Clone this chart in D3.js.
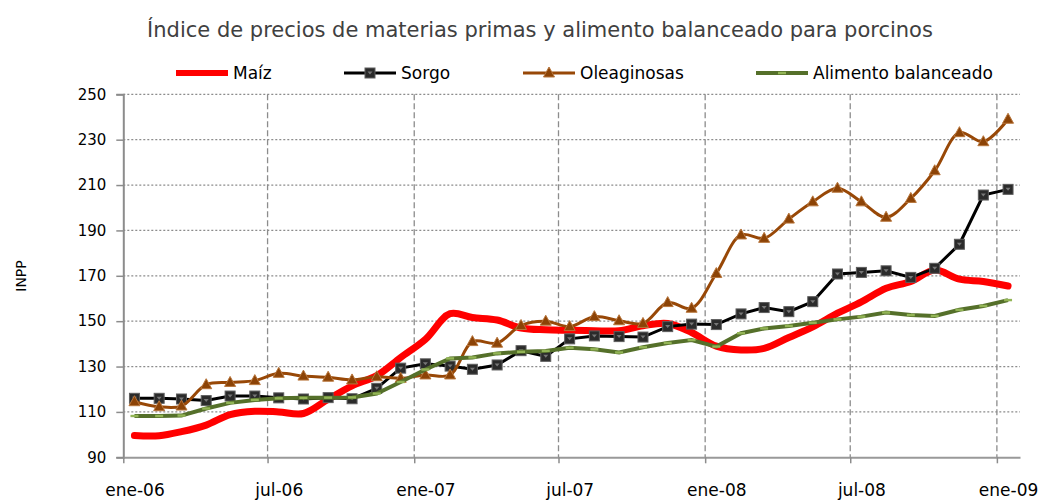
<!DOCTYPE html>
<html>
<head>
<meta charset="utf-8">
<script src="https://cdn.jsdelivr.net/npm/d3@7"></script>
<style>
  body { margin: 0; background: #fff; }
  svg { display: block; font-family: "DejaVu Sans", sans-serif; }
</style>
</head>
<body>
<div class="chart"></div>
<script>
// monthly data, ene-06 .. ene-09
var months = ["2006-01","2006-02","2006-03","2006-04","2006-05","2006-06","2006-07","2006-08","2006-09","2006-10","2006-11","2006-12",
  "2007-01","2007-02","2007-03","2007-04","2007-05","2007-06","2007-07","2007-08","2007-09","2007-10","2007-11","2007-12",
  "2008-01","2008-02","2008-03","2008-04","2008-05","2008-06","2008-07","2008-08","2008-09","2008-10","2008-11","2008-12",
  "2009-01"];

var maiz = [99.6, 99.5, 101.3, 104.2, 108.8, 110.3, 110.0, 109.3, 115.6, 121.5, 126.0, 134.0,
  142.0, 153.3, 151.6, 150.5, 147.0, 146.2, 146.0, 145.8, 145.8, 148.0, 149.0, 145.0,
  139.0, 137.3, 138.0, 142.8, 147.5, 153.5, 158.5, 164.5, 167.5, 172.5, 168.5, 167.5, 165.5];

var sorgo = [116, 116, 115.7, 115, 117, 117, 116.2, 115.7, 116.3, 115.8, 120.4, 129.3,
  131.2, 130.2, 128.8, 130.7, 137, 134.5, 142.2, 143.5, 143.2, 143, 147.6, 148.7,
  148.5, 153.2, 156, 154.2, 158.6, 170.8, 171.5, 172.2, 169.3, 173.3, 183.9, 205.6, 208.1];

var oleaginosas = [114.5, 112.3, 112.6, 122, 123, 123.8, 127, 125.8, 125.3, 124.1, 125.5, 124.8,
  126.3, 126.3, 141, 140.3, 148.1, 150, 147.6, 152, 150.2, 149, 158.2, 155.7,
  171, 188, 186.5, 195, 202.6, 208.6, 202.6, 195.8, 204.1, 216.3, 233.1, 229.1, 239];

var alimento = [108.2, 108.2, 108.4, 111.5, 114, 115.3, 116, 116.2, 116.3, 116.4, 118.1, 123.2,
  128.7, 133.6, 134, 135.8, 136.5, 136.9, 138.3, 137.6, 136.2, 138.5, 140.4, 141.7,
  138.8, 144.7, 146.8, 147.9, 149.3, 150.8, 152, 153.8, 152.7, 152.3, 155, 156.7, 159.3];

var seriesNames = ["Maíz", "Sorgo", "Oleaginosas", "Alimento balanceado"];
var xTickDates = ["2006-01-01","2006-07-01","2007-01-01","2007-07-01","2008-01-01","2008-07-01","2009-01-01"];
var xTickLabels = ["ene-06","jul-06","ene-07","jul-07","ene-08","jul-08","ene-09"];
var yTicks = [90, 110, 130, 150, 170, 190, 210, 230, 250];

var svgWidth = 1041;
var svgHeight = 502;
var margin = { top: 94.3, right: 21, bottom: 44.7, left: 123.3 };
var width = svgWidth - margin.left - margin.right;
var height = svgHeight - margin.top - margin.bottom;

var parseDay = d3.timeParse("%Y-%m-%d");
var dates = months.map(function(m) { return parseDay(m + "-15"); });

var svg = d3.select(".chart").append("svg")
  .attr("width", svgWidth)
  .attr("height", svgHeight);

var chart = svg.append("g")
  .attr("transform", "translate(" + margin.left + "," + margin.top + ")");

var x = d3.scaleTime()
  .domain([parseDay("2006-01-01"), parseDay("2009-01-30")])
  .range([0, width]);
var y = d3.scaleLinear().domain([90, 250]).range([height, 0]);

// horizontal gridlines (dotted)
chart.append("g")
  .selectAll("line")
  .data(yTicks.slice(1))
  .enter().append("line")
  .attr("x1", 0).attr("x2", width)
  .attr("y1", function(d) { return y(d); })
  .attr("y2", function(d) { return y(d); })
  .attr("stroke", "#8c8c8c")
  .attr("stroke-width", 1.3)
  .attr("stroke-dasharray", "2,2");

// vertical gridlines (dashed)
chart.append("g")
  .selectAll("line")
  .data(xTickDates.slice(1))
  .enter().append("line")
  .attr("x1", function(d) { return x(parseDay(d)); })
  .attr("x2", function(d) { return x(parseDay(d)); })
  .attr("y1", 0).attr("y2", height)
  .attr("stroke", "#8c8c8c")
  .attr("stroke-width", 1.3)
  .attr("stroke-dasharray", "6,3");

// y axis
var leftAxis = d3.axisLeft(y).tickValues(yTicks).tickSize(7).tickPadding(10);
var gy = chart.append("g").call(leftAxis);
gy.select(".domain").attr("stroke", "#8c8c8c").attr("stroke-width", 2);
gy.selectAll(".tick line").attr("stroke", "#8c8c8c").attr("stroke-width", 1.5);
gy.selectAll(".tick text")
  .attr("font-size", 15)
  .attr("font-family", "DejaVu Sans, sans-serif")
  .attr("fill", "#000");

// x axis - labels sit on the middle of the month
var labelShift = x(parseDay("2006-01-15")) - x(parseDay("2006-01-01"));
var bottomAxis = d3.axisBottom(x)
  .tickValues(xTickDates.map(parseDay))
  .tickFormat(function(d, i) { return xTickLabels[i]; })
  .tickSize(6).tickSizeOuter(0).tickPadding(21);
var gx = chart.append("g")
  .attr("transform", "translate(0," + height + ")")
  .call(bottomAxis);
gx.select(".domain").attr("stroke", "#999").attr("stroke-width", 2);
gx.selectAll(".tick line").attr("stroke", "#8c8c8c").attr("stroke-width", 1.5);
gx.selectAll(".tick text")
  .attr("x", labelShift)
  .attr("font-size", 17)
  .attr("font-family", "DejaVu Sans, sans-serif")
  .attr("fill", "#000");

// y axis title
svg.append("text")
  .attr("transform", "translate(26," + 276 + ") rotate(-90)")
  .attr("text-anchor", "middle")
  .attr("font-size", 14)
  .attr("fill", "#000")
  .text("INPP");

// title
svg.append("text")
  .attr("x", 540)
  .attr("y", 37)
  .attr("text-anchor", "middle")
  .attr("font-size", 21)
  .attr("fill", "#404040")
  .text("Índice de precios de materias primas y alimento balanceado para porcinos");

function pts(values) {
  return values.map(function(v, i) { return { date: dates[i], value: v }; });
}

var straight = d3.line()
  .x(function(d) { return x(d.date); })
  .y(function(d) { return y(d.value); });
var smooth = d3.line()
  .x(function(d) { return x(d.date); })
  .y(function(d) { return y(d.value); })
  .curve(d3.curveCatmullRom.alpha(0.5));

// Maiz - thick red smooth line
chart.append("path")
  .datum(pts(maiz))
  .attr("d", smooth)
  .attr("fill", "none")
  .attr("stroke", "#ff0000")
  .attr("stroke-width", 7)
  .attr("stroke-linecap", "round")
  .attr("stroke-linejoin", "round");

// Sorgo - black line with squares
chart.append("path")
  .datum(pts(sorgo))
  .attr("d", straight)
  .attr("fill", "none")
  .attr("stroke", "#000")
  .attr("stroke-width", 3);

function squareMarker(sel) {
  sel.append("rect")
    .attr("x", -5).attr("y", -5)
    .attr("width", 10).attr("height", 10)
    .attr("fill", "#2b2b2b")
    .attr("stroke", "#5e5e5e")
    .attr("stroke-width", 1);
  sel.append("path")
    .attr("d", "M-2.5,-1.5L2.5,-1.5L0,1.5Z")
    .attr("fill", "#777");
}

chart.append("g").selectAll("g")
  .data(pts(sorgo))
  .enter().append("g")
  .attr("transform", function(d) { return "translate(" + x(d.date) + "," + y(d.value) + ")"; })
  .call(squareMarker);

// Oleaginosas - brown smooth line with triangles
chart.append("path")
  .datum(pts(oleaginosas))
  .attr("d", smooth)
  .attr("fill", "none")
  .attr("stroke", "#984807")
  .attr("stroke-width", 3);

function triMarker(sel) {
  sel.append("path")
    .attr("d", "M0,-6L5.5,4L-5.5,4Z")
    .attr("fill", "#8c4306")
    .attr("stroke", "#b8763c")
    .attr("stroke-width", 1);
}

chart.append("g").selectAll("g")
  .data(pts(oleaginosas))
  .enter().append("g")
  .attr("transform", function(d) { return "translate(" + x(d.date) + "," + y(d.value) + ")"; })
  .call(triMarker);

// Alimento balanceado - olive line with dash markers
chart.append("path")
  .datum(pts(alimento))
  .attr("d", straight)
  .attr("fill", "none")
  .attr("stroke", "#55702a")
  .attr("stroke-width", 4);

function dashMarker(sel) {
  sel.append("rect")
    .attr("x", -4).attr("y", -1.2)
    .attr("width", 8).attr("height", 2.4)
    .attr("fill", "#93b556");
}

chart.append("g").selectAll("g")
  .data(pts(alimento))
  .enter().append("g")
  .attr("transform", function(d) { return "translate(" + x(d.date) + "," + y(d.value) + ")"; })
  .call(dashMarker);

// legend
var legendY = 73;
var legendX = [176, 344, 523, 756];
var legend = svg.append("g");

function legendItem(i, drawSample) {
  var g = legend.append("g").attr("transform", "translate(" + legendX[i] + "," + legendY + ")");
  drawSample(g);
  g.append("text")
    .attr("x", 57).attr("y", 6)
    .attr("font-size", 17)
    .attr("fill", "#000")
    .text(seriesNames[i]);
}

legendItem(0, function(g) {
  g.append("line").attr("x1", 0).attr("x2", 52).attr("stroke", "#ff0000").attr("stroke-width", 6);
});
legendItem(1, function(g) {
  g.append("line").attr("x1", 0).attr("x2", 52).attr("stroke", "#000").attr("stroke-width", 3);
  g.append("g").attr("transform", "translate(26,0)").call(squareMarker);
});
legendItem(2, function(g) {
  g.append("line").attr("x1", 0).attr("x2", 52).attr("stroke", "#984807").attr("stroke-width", 3);
  g.append("g").attr("transform", "translate(26,0)").call(triMarker);
});
legendItem(3, function(g) {
  g.append("line").attr("x1", 0).attr("x2", 52).attr("stroke", "#55702a").attr("stroke-width", 4);
  g.append("g").attr("transform", "translate(26,0)").call(dashMarker);
});
</script>
</body>
</html>
